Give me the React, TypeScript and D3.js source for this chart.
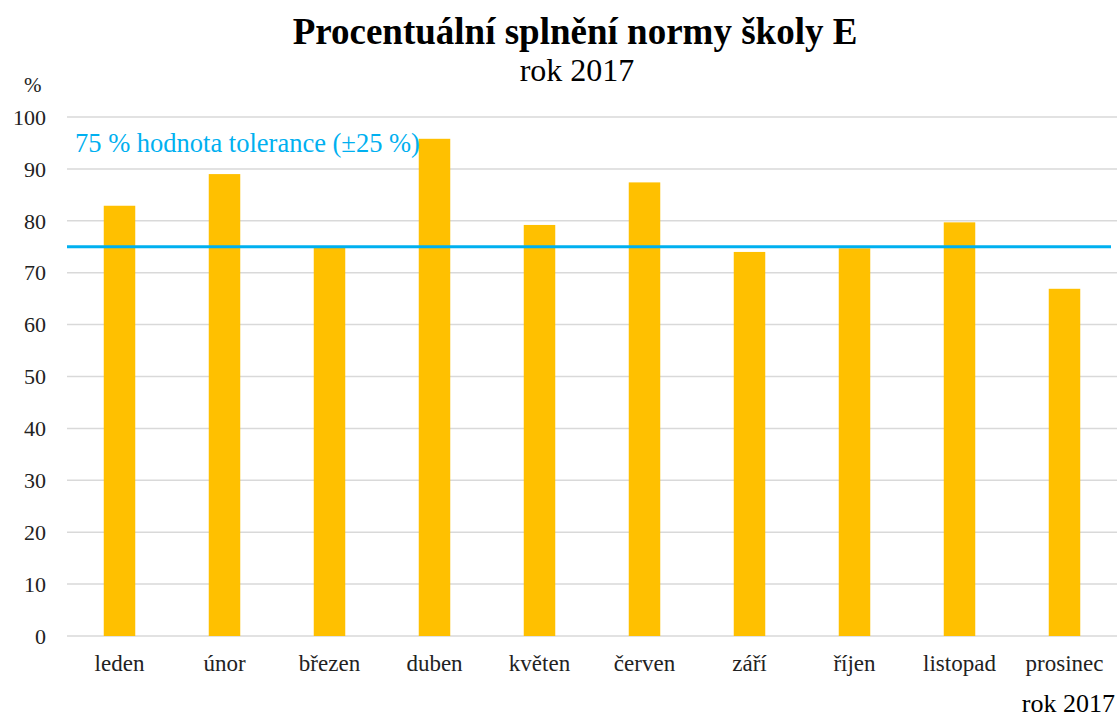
import React, { useEffect, useRef } from "react";
import * as d3 from "d3";

// chart data
const months = ["leden", "únor", "březen", "duben", "květen", "červen", "září", "říjen", "listopad", "prosinec"];
const values = [82.9, 89.0, 74.9, 95.8, 79.2, 87.4, 74.0, 74.7, 79.7, 66.9];
const yTicks = [0, 10, 20, 30, 40, 50, 60, 70, 80, 90, 100];
const tolerance = 75;

export default function App() {
    const svgRef = useRef<SVGSVGElement | null>(null);

    useEffect(() => {
        const svg = d3.select(svgRef.current);
        svg.selectAll("*").remove();

        const width = 1119;
        const height = 717;
        const margin = { top: 117, right: 2, bottom: 81, left: 67 };
        const font = "Liberation Serif";

        svg.attr("width", width).attr("height", height)
            .style("font-family", font);

        //scales
        const x = d3.scaleBand<string>()
            .domain(months)
            .range([margin.left, width - margin.right])
            .paddingInner(0.7)
            .paddingOuter(0.35);

        const y = d3.scaleLinear()
            .domain([0, 100])
            .range([height - margin.bottom, margin.top]);

        //gridlines
        svg.append("g")
            .selectAll("line")
            .data(yTicks)
            .join("line")
            .attr("x1", margin.left)
            .attr("x2", width - margin.right)
            .attr("y1", (d) => y(d))
            .attr("y2", (d) => y(d))
            .attr("stroke", "#d9d9d9")
            .attr("stroke-width", 1.5);

        //y tick labels
        svg.append("g")
            .selectAll("text")
            .data(yTicks)
            .join("text")
            .attr("x", 46)
            .attr("y", (d) => y(d))
            .attr("dy", "0.35em")
            .attr("text-anchor", "end")
            .style("font-size", "22px")
            .attr("fill", "#222")
            .text((d) => d);

        //bars
        svg.append("g")
            .selectAll("rect")
            .data(values)
            .join("rect")
            .attr("x", (d, i) => x(months[i]) as number)
            .attr("width", x.bandwidth())
            .attr("y", (d) => y(d))
            .attr("height", (d) => y(0) - y(d))
            .attr("fill", "#FFC000");

        //category labels
        svg.append("g")
            .selectAll("text")
            .data(months)
            .join("text")
            .attr("x", (d) => (x(d) as number) + x.bandwidth() / 2)
            .attr("y", 671)
            .attr("text-anchor", "middle")
            .style("font-size", "23px")
            .attr("fill", "#222")
            .text((d) => d);

        //tolerance line
        svg.append("line")
            .attr("x1", margin.left)
            .attr("x2", 1111)
            .attr("y1", y(tolerance))
            .attr("y2", y(tolerance))
            .attr("stroke", "#00B0F0")
            .attr("stroke-width", 3);

        svg.append("text")
            .attr("x", 75)
            .attr("y", 152)
            .style("font-size", "26.5px")
            .attr("fill", "#00B0F0")
            .text("75 % hodnota tolerance (±25 %)");

        //titles
        svg.append("text")
            .attr("x", 575)
            .attr("y", 44)
            .attr("text-anchor", "middle")
            .style("font-weight", "bold")
            .style("font-size", "37px")
            .attr("fill", "#000")
            .text("Procentuální splnění normy školy E");

        svg.append("text")
            .attr("x", 577)
            .attr("y", 81)
            .attr("text-anchor", "middle")
            .style("font-size", "32px")
            .attr("fill", "#000")
            .text("rok 2017");

        svg.append("text")
            .attr("x", 24)
            .attr("y", 92)
            .style("font-size", "21px")
            .attr("fill", "#222")
            .text("%");

        svg.append("text")
            .attr("x", 1115)
            .attr("y", 712)
            .attr("text-anchor", "end")
            .style("font-size", "26px")
            .attr("fill", "#000")
            .text("rok 2017");
    }, []);

    return (
        <div style={{ position: "absolute", left: 0, top: 0 }}>
            <svg ref={svgRef} style={{ display: "block" }}></svg>
        </div>
    );
}
